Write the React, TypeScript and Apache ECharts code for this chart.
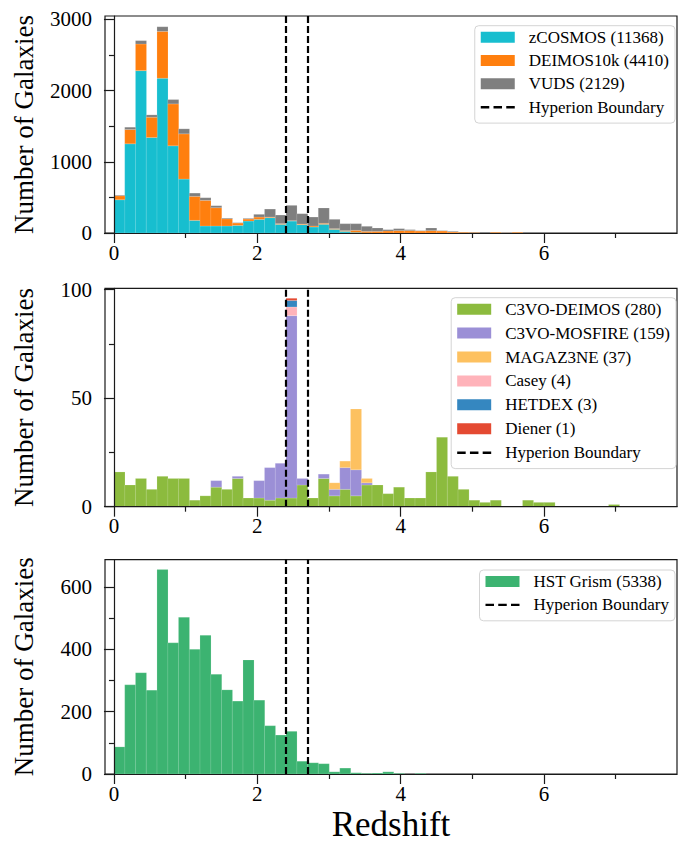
import React, { useEffect, useRef } from 'react';
import * as echarts from 'echarts';

// ---------- data (histogram counts per redshift bin, bin width 0.15 starting at z = 0) ----------
const BIN_WIDTH = 0.15;
const HYPERION_BOUNDARY = [2.4, 2.7];

// top panel
const zCOSMOS = [467, 1252, 2279, 1340, 2172, 1224, 757, 177, 98, 98, 98, 107, 168, 191, 215, 121, 168, 117, 84, 122, 51, 23, 9, 2, 0, 0, 0];
const DEIMOS10k = [56, 200, 374, 285, 658, 588, 635, 337, 360, 257, 102, 33, 28, 33, 9, 10, 5, 9, 14, 14, 10, 10, 28, 21, 23, 28, 33, 33, 28, 33, 28, 14, 9, 5, 0, 9, 5, 9];
const VUDS = [9, 33, 47, 33, 65, 61, 70, 46, 37, 28, 10, 5, 9, 38, 112, 121, 215, 145, 126, 215, 131, 98, 94, 71, 47, 19, 28, 14, 5, 37, 5, 9, 0, 0, 0, 0, 5, 0];

// middle panel
const C3VO_DEIMOS = [16, 10, 13, 8, 14, 13, 13, 3, 5, 9, 8, 13, 4, 4, 3, 4, 4, 10, 4, 13, 5, 8, 5, 10, 10, 6, 9, 4, 4, 16, 32, 14, 8, 3, 2, 3, 0, 0, 3, 2, 2, 0, 0, 0, 0, 0, 1];
const C3VO_MOSFIRE = [0, 0, 0, 0, 0, 0, 0, 0, 0, 3, 0, 1, 0, 8, 15, 16, 84, 3, 0, 2, 3, 10, 12, 1];
const MAGAZ3NE = [0, 0, 0, 0, 0, 0, 0, 0, 0, 0, 0, 0, 0, 0, 0, 0, 0, 0, 0, 0, 3, 3, 28, 2];
const Casey = [0, 0, 0, 0, 0, 0, 0, 0, 0, 0, 0, 0, 0, 0, 0, 0, 4];
const HETDEX = [0, 0, 0, 0, 0, 0, 0, 0, 0, 0, 0, 0, 0, 0, 0, 0, 3];
const Diener = [0, 0, 0, 0, 0, 0, 0, 0, 0, 0, 0, 0, 0, 0, 0, 0, 1];

// bottom panel
const HST_Grism = [87, 286, 325, 269, 656, 421, 503, 400, 445, 320, 270, 234, 366, 237, 155, 125, 137, 41, 36, 33, 7, 19, 4, 2, 3, 7, 2, 0, 2];

// axes
const X_MIN = -0.125;
const X_MAX = 7.855;
const X_MAJOR = [0, 2, 4, 6];
const X_MINOR = [1, 3, 5, 7];
const Y_MAX = [3046, 100.6, 688];
const Y_MAJOR = [[0, 1000, 2000, 3000], [0, 50, 100], [0, 200, 400, 600]];
const Y_MINOR = [[500, 1500, 2500], [25, 75], [100, 300, 500]];

const PANELS = [
  {
    layers: [
      { name: 'zCOSMOS (11368)', color: '#17becf', values: zCOSMOS },
      { name: 'DEIMOS10k (4410)', color: '#ff7f0e', values: DEIMOS10k },
      { name: 'VUDS (2129)', color: '#7f7f7f', values: VUDS },
    ],
  },
  {
    layers: [
      { name: 'C3VO-DEIMOS (280)', color: '#8cbb3e', values: C3VO_DEIMOS },
      { name: 'C3VO-MOSFIRE (159)', color: '#9b8fd6', values: C3VO_MOSFIRE },
      { name: 'MAGAZ3NE (37)', color: '#fdc160', values: MAGAZ3NE },
      { name: 'Casey (4)', color: '#ffb3ba', values: Casey },
      { name: 'HETDEX (3)', color: '#3587c0', values: HETDEX },
      { name: 'Diener (1)', color: '#e44a32', values: Diener },
    ],
  },
  {
    layers: [{ name: 'HST Grism (5338)', color: '#3cb371', values: HST_Grism }],
  },
];

const SERIF = 'Liberation Serif, Times New Roman, serif';
const GRIDS = [
  { left: 105, right: 9, top: 16, height: 217 },
  { left: 105, right: 9, top: 288.3, height: 218.4 },
  { left: 105, right: 9, top: 559.6, height: 217.7 },
];
const LEGEND_TOPS = [25.7, 297.7, 570];
const LEGEND_GAPS = [6.3, 6.9, 6.3];
const LEGEND_RIGHTS = [11, 10, 11];
// three dashes inside a 34 x 11 box (the two bare move-tos fix the bounding box)
const DASH_ICON = 'path://M0,0M34,11M0,4.4h8.5v2.4h-8.5zM12.75,4.4h8.5v2.4h-8.5zM25.5,4.4h8.5v2.4h-8.5z';

function buildOption() {
  const grid: any[] = [];
  const xAxis: any[] = [];
  const yAxis: any[] = [];
  const series: any[] = [];
  const legend: any[] = [];

  PANELS.forEach((panel, g) => {
    grid.push({ ...GRIDS[g], show: true, borderColor: '#1a1a1a', borderWidth: 1.2, backgroundColor: 'transparent' });
    const tickStyle = { color: '#1a1a1a', width: 1.2 };
    xAxis.push({
      type: 'value', gridIndex: g, min: X_MIN, max: X_MAX, position: 'bottom', z: 5,
      axisLine: { show: true, lineStyle: tickStyle },
      axisTick: { show: true, customValues: X_MAJOR, length: 10, lineStyle: tickStyle },
      axisLabel: {
        show: true, customValues: X_MAJOR, margin: 9, fontFamily: SERIF, fontSize: 21, color: '#000',
        formatter: (v: number) => String(v),
      },
      splitLine: { show: false },
      ...(g === 2
        ? { name: 'Redshift', nameLocation: 'middle', nameGap: 33, nameTextStyle: { fontFamily: SERIF, fontSize: 35, color: '#000' } }
        : {}),
    });
    xAxis.push({
      type: 'value', gridIndex: g, min: X_MIN, max: X_MAX, position: 'bottom', z: 5,
      axisLine: { show: false },
      axisTick: { show: true, customValues: X_MINOR, length: 5, lineStyle: tickStyle },
      axisLabel: { show: false },
      splitLine: { show: false },
    });
    yAxis.push({
      type: 'value', gridIndex: g, min: 0, max: Y_MAX[g], position: 'left', z: 5,
      axisLine: { show: true, lineStyle: tickStyle },
      axisTick: { show: true, customValues: Y_MAJOR[g], length: 10, lineStyle: tickStyle },
      axisLabel: {
        show: true, customValues: Y_MAJOR[g], margin: 13, fontFamily: SERIF, fontSize: 21, color: '#000',
        formatter: (v: number) => String(v),
      },
      splitLine: { show: false },
      name: 'Number of Galaxies', nameLocation: 'middle', nameGap: 68,
      nameTextStyle: { fontFamily: SERIF, fontSize: 27, color: '#000' },
    });
    yAxis.push({
      type: 'value', gridIndex: g, min: 0, max: Y_MAX[g], position: 'left', z: 5,
      axisLine: { show: false },
      axisTick: { show: true, customValues: Y_MINOR[g], length: 5, lineStyle: tickStyle },
      axisLabel: { show: false },
      splitLine: { show: false },
    });

    const nBins = Math.max(...panel.layers.map((l) => l.values.length));
    const cum = new Array(nBins).fill(0);
    panel.layers.forEach((layer) => {
      const data: number[][] = [];
      for (let i = 0; i < nBins; i++) {
        const v = layer.values[i] || 0;
        if (v > 0) {
          const x0 = i * BIN_WIDTH;
          data.push([x0, x0 + BIN_WIDTH, cum[i], cum[i] + v]);
        }
        cum[i] += v;
      }
      const color = layer.color;
      series.push({
        type: 'custom',
        name: layer.name,
        xAxisIndex: 2 * g,
        yAxisIndex: 2 * g,
        itemStyle: { color },
        encode: { x: [0, 1], y: [2, 3] },
        data,
        z: 2,
        renderItem: (params: any, api: any) => {
          const p0 = api.coord([api.value(0), api.value(2)]);
          const p1 = api.coord([api.value(1), api.value(3)]);
          return {
            type: 'rect',
            shape: { x: p0[0], y: p1[1], width: p1[0] - p0[0] + 0.3, height: p0[1] - p1[1] },
            style: { fill: color, stroke: 'rgba(255,255,255,0.3)', lineWidth: 0.5 },
          };
        },
      });
    });

    series.push({
      type: 'line',
      name: 'Hyperion Boundary',
      xAxisIndex: 2 * g,
      yAxisIndex: 2 * g,
      data: [],
      symbol: 'none',
      showSymbol: false,
      itemStyle: { color: '#000' },
      lineStyle: { color: '#000', width: 2.2, type: [7, 3] },
      z: 4,
      markLine: {
        silent: true,
        symbol: ['none', 'none'],
        label: { show: false },
        lineStyle: { color: '#000', width: 2.2, type: [7, 3] },
        data: HYPERION_BOUNDARY.map((v) => ({ xAxis: v })),
      },
    });

    legend.push({
      orient: 'vertical',
      right: LEGEND_RIGHTS[g],
      top: LEGEND_TOPS[g],
      padding: [3, 6, 7.5, 6],
      itemWidth: 34,
      itemHeight: 11,
      itemGap: LEGEND_GAPS[g],
      borderColor: '#d4d4d4',
      borderWidth: 1,
      borderRadius: 4,
      backgroundColor: 'rgba(255,255,255,0.85)',
      textStyle: { fontFamily: SERIF, fontSize: 17, color: '#000', lineHeight: 17, padding: [0, 0, 0, 9] },
      selectedMode: false,
      data: [
        ...panel.layers.map((l) => ({ name: l.name, icon: 'rect' })),
        { name: 'Hyperion Boundary', icon: DASH_ICON, itemStyle: { color: '#000', borderWidth: 0 } },
      ],
    });
  });

  return { animation: false, backgroundColor: '#fff', grid, xAxis, yAxis, series, legend };
}

export default function App() {
  const ref = useRef<HTMLDivElement>(null);
  useEffect(() => {
    if (!ref.current) return;
    const chart = echarts.init(ref.current, undefined, { renderer: 'svg' });
    chart.setOption(buildOption() as any);
    return () => chart.dispose();
  }, []);
  return (
    <div
      ref={ref}
      style={{ position: 'fixed', left: 0, top: 0, width: 686, height: 843, background: '#fff' }}
    />
  );
}
